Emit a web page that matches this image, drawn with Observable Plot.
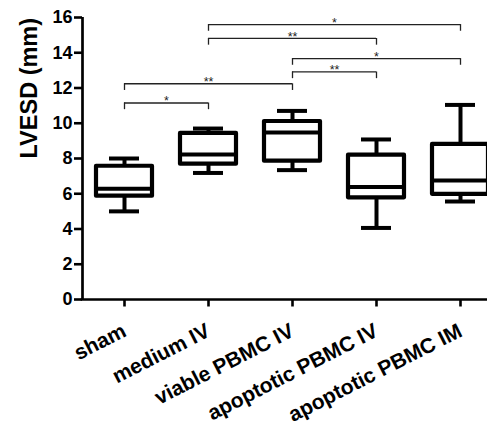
<!DOCTYPE html>
<html>
<head>
<meta charset="utf-8">
<script src="https://cdn.jsdelivr.net/npm/d3@7"></script>
<script src="https://cdn.jsdelivr.net/npm/@observablehq/plot@0.6"></script>
<style>
  body { margin: 0; background: #fff; }
  #chart svg { overflow: hidden; }
</style>
</head>
<body>
<div id="chart"></div>
<script>
// Categories and box-plot statistics (LVESD, mm)
const categories = ["sham", "medium IV", "viable PBMC IV", "apoptotic PBMC IV", "apoptotic PBMC IM"];
const whiskerMin = [5.0, 7.18, 7.34, 4.06, 5.56];
const q1 = [5.86, 7.68, 7.85, 5.77, 5.97];
const median = [6.28, 8.23, 9.48, 6.39, 6.75];
const q3 = [7.56, 9.42, 10.1, 8.19, 8.8];
const whiskerMax = [8.0, 9.7, 10.7, 9.08, 11.04];

// Significance brackets
const bracketFrom = [0, 0, 2, 2, 1, 1];
const bracketTo = [1, 2, 3, 4, 3, 4];
const bracketY = [11.15, 12.24, 12.91, 13.67, 14.81, 15.6];
const bracketLabel = ["*", "**", "**", "*", "**", "*"];

const yTicks = [0, 2, 4, 6, 8, 10, 12, 14, 16];
const yLabel = "LVESD (mm)";

const boxes = categories.map((c, i) => ({
  i, name: c, lo: whiskerMin[i], q1: q1[i], med: median[i], q3: q3[i], hi: whiskerMax[i]
}));
const brackets = bracketFrom.map((f, k) => ({
  from: f, to: bracketTo[k], y: bracketY[k], label: bracketLabel[k], mid: (f + bracketTo[k]) / 2
}));
const xIdx = categories.map((c, i) => i);

const PXX = 84;        // pixels per x unit
const PXY = 17.625;    // pixels per y unit
const HW = 28 / PXX;   // half box width
const CW = 15 / PXX;   // half whisker-cap width
const DROP = 0.38;     // bracket leg length (y units)
const font = "Liberation Sans, Arial, Helvetica, sans-serif";

const chart = Plot.plot({
  width: 487,
  height: 430,
  marginTop: 17,
  marginBottom: 131,
  marginLeft: 82,
  marginRight: 0,
  style: { fontFamily: font, background: "#fff", color: "#000" },
  x: { type: "linear", domain: [-0.5, 4.5], range: [82, 502], axis: null },
  y: { domain: [0, 16], axis: null },
  marks: [
    // axis lines and ticks
    Plot.ruleX([-0.5], { y1: 0, y2: 16, strokeWidth: 2.7 }),
    Plot.ruleY([0], { x1: -0.5 - 1.3 / PXX, x2: 4.5, strokeWidth: 2.7 }),
    Plot.ruleY(yTicks, { y: d => d, x1: -0.5 - 8 / PXX, x2: -0.5, strokeWidth: 2.6 }),
    Plot.ruleX(xIdx, { x: d => d, y1: 0, y2: -7.5 / PXY, strokeWidth: 2.6 }),
    // tick labels
    Plot.text(yTicks, { x: -0.5, y: d => d, text: d => String(d), textAnchor: "end", dx: -10, fontSize: 18, fontWeight: "bold" }),
    Plot.text(xIdx, { x: d => d, y: 0, text: d => categories[d], textAnchor: "end", rotate: -27, dx: 0, dy: 30,
      fontSize: 21, fontWeight: "bold" }),
    Plot.text([yLabel], { text: d => d, frameAnchor: "left", rotate: -90, dx: -53, fontSize: 23.5, fontWeight: "bold" }),

    // whiskers
    Plot.ruleX(boxes, { x: "i", y1: "q3", y2: "hi", strokeWidth: 4 }),
    Plot.ruleX(boxes, { x: "i", y1: "lo", y2: "q1", strokeWidth: 4 }),
    Plot.ruleY(boxes, { y: "hi", x1: d => d.i - CW, x2: d => d.i + CW, strokeWidth: 4 }),
    Plot.ruleY(boxes, { y: "lo", x1: d => d.i - CW, x2: d => d.i + CW, strokeWidth: 4 }),
    // boxes
    Plot.rect(boxes, { x1: d => d.i - HW, x2: d => d.i + HW, y1: "q1", y2: "q3", fill: "#fff", stroke: "#000",
      strokeWidth: 4.2, strokeLinejoin: "round" }),
    Plot.ruleY(boxes, { y: "med", x1: d => d.i - HW, x2: d => d.i + HW, strokeWidth: 4 }),

    // significance brackets
    Plot.ruleY(brackets, { y: "y", x1: "from", x2: "to", stroke: "#222", strokeWidth: 1.3 }),
    Plot.ruleX(brackets, { x: "from", y1: d => d.y - DROP, y2: "y", stroke: "#222", strokeWidth: 1.3 }),
    Plot.ruleX(brackets, { x: "to", y1: d => d.y - DROP, y2: "y", stroke: "#222", strokeWidth: 1.3 }),
    Plot.text(brackets, { x: "mid", y: "y", text: "label", dy: -1.5, fontSize: 12.5, fill: "#222" })
  ]
});
document.getElementById("chart").append(chart);
</script>
</body>
</html>
